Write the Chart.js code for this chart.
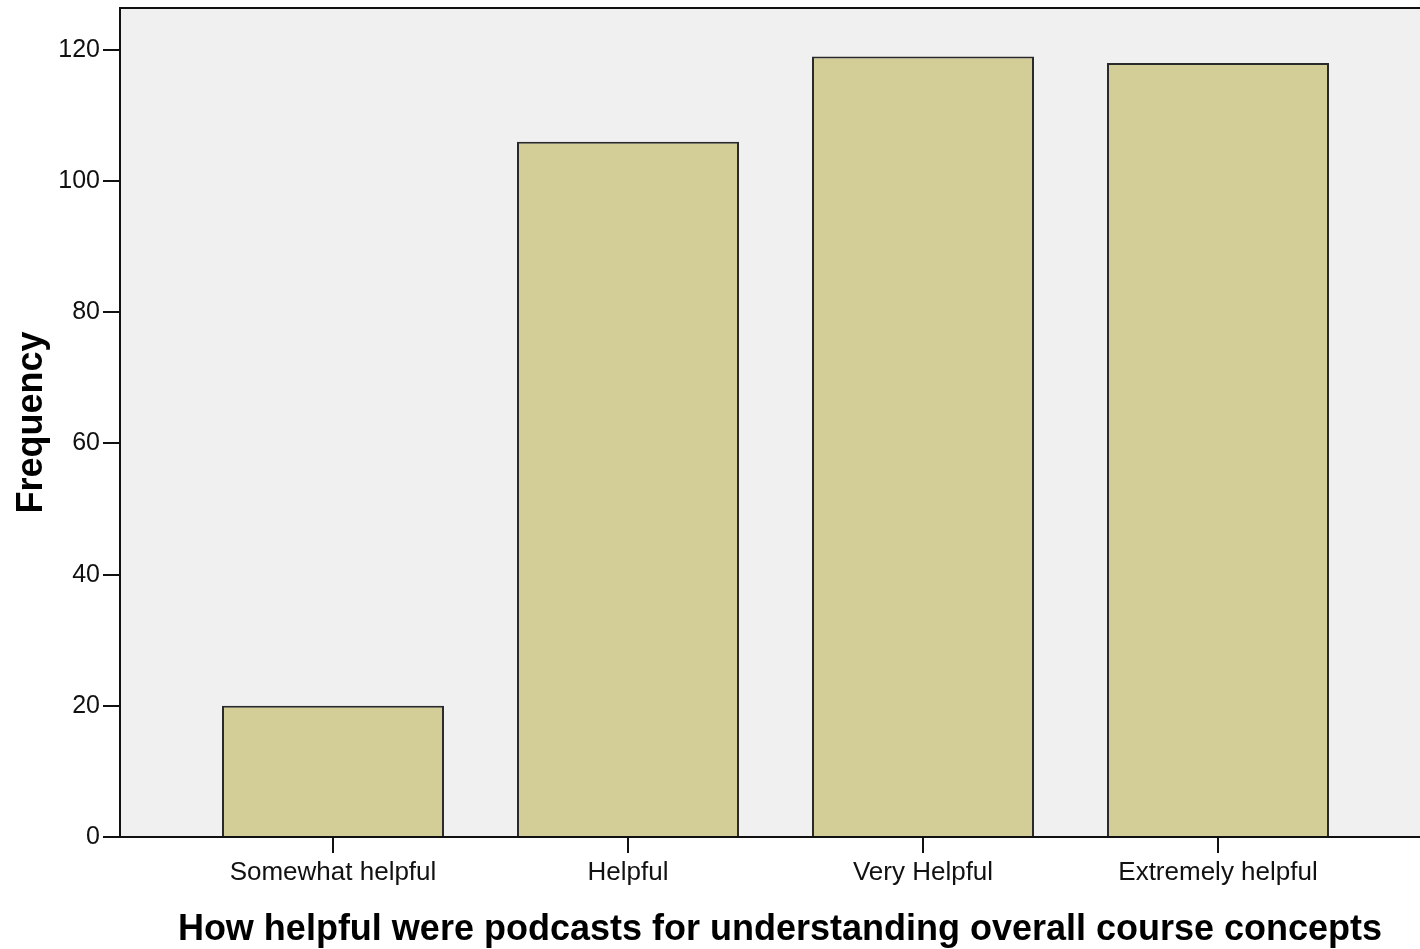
<!DOCTYPE html>
<html>
<head>
<meta charset="utf-8">
<script src="https://cdn.jsdelivr.net/npm/chart.js@4/dist/chart.umd.min.js"></script>
<style>
  html, body { margin: 0; padding: 0; background: #fff; overflow: hidden; }
  #wrap { width: 1440px; height: 949px; }
</style>
</head>
<body>
<div id="wrap"><canvas id="c" width="1440" height="949"></canvas></div>
<script>
const categories = ["Somewhat helpful", "Helpful", "Very Helpful", "Extremely helpful"];
const frequencies = [20, 106, 119, 118];
const yTicks = [0, 20, 40, 60, 80, 100, 120];
const xTitle = "How helpful were podcasts for understanding overall course concepts";
const yTitle = "Frequency";

const frame = {
  id: 'frame',
  beforeDraw(chart) {
    const { ctx, chartArea: a } = chart;
    ctx.save();
    ctx.fillStyle = '#ffffff';
    ctx.fillRect(0, 0, chart.width, chart.height);
    ctx.fillStyle = '#f0f0f0';
    ctx.fillRect(a.left, a.top, a.right - a.left, a.bottom - a.top);
    ctx.restore();
  },
  afterDraw(chart) {
    const { ctx, chartArea: a } = chart;
    ctx.save();
    ctx.strokeStyle = '#111';
    ctx.lineWidth = 2;
    ctx.beginPath();
    ctx.moveTo(a.left - 1, a.top);
    ctx.lineTo(a.right, a.top);
    ctx.stroke();
    ctx.restore();
  }
};

new Chart(document.getElementById('c'), {
  type: 'bar',
  data: {
    datasets: [{
      data: frequencies.map((v, i) => ({ x: i, y: v })),
      backgroundColor: '#d3ce97',
      borderColor: '#2a2a2a',
      borderWidth: 2,
      barPercentage: 0.7525,
      categoryPercentage: 1
    }]
  },
  options: {
    responsive: false,
    animation: false,
    devicePixelRatio: 1,
    layout: { padding: { left: 0, right: 0, top: 8, bottom: 0 } },
    plugins: { legend: { display: false }, tooltip: { enabled: false } },
    scales: {
      x: {
        type: 'linear',
        offset: false,
        min: -0.722,
        max: 3.7525,
        afterBuildTicks(scale) { scale.ticks = categories.map((_, i) => ({ value: i })); },
        afterFit(scale) { scale.height = 112; scale.paddingLeft = 0; scale.paddingRight = 0; },
        ticks: {
          callback: (v) => categories[v],
          color: '#111',
          font: { family: "'Liberation Sans', Arial, sans-serif", size: 26 },
          padding: 4,
          maxRotation: 0,
          autoSkip: false
        },
        grid: { offset: false, drawOnChartArea: false, drawTicks: true, tickLength: 16, color: '#111', lineWidth: 2 },
        border: { display: true, color: '#111', width: 2 },
        title: {
          display: true,
          text: xTitle,
          color: '#000',
          font: { family: "'Liberation Sans', Arial, sans-serif", size: 36, weight: 'bold' },
          padding: { top: 0, bottom: -3 }
        }
      },
      y: {
        min: 0,
        max: 126.4,
        afterBuildTicks(scale) { scale.ticks = yTicks.map(v => ({ value: v })); },
        afterFit(scale) { scale.width = 120; scale.paddingTop = 0; scale.paddingBottom = 0; },
        ticks: {
          color: '#111',
          font: { family: "'Liberation Sans', Arial, sans-serif", size: 25 },
          padding: 3
        },
        grid: { drawOnChartArea: false, drawTicks: true, tickLength: 17, color: '#111', lineWidth: 2 },
        border: { display: true, color: '#111', width: 2 },
        title: {
          display: true,
          text: yTitle,
          color: '#000',
          font: { family: "'Liberation Sans', Arial, sans-serif", size: 36, weight: 'bold' },
          padding: { top: 10, bottom: 0 }
        }
      }
    }
  },
  plugins: [frame]
});
</script>
</body>
</html>
